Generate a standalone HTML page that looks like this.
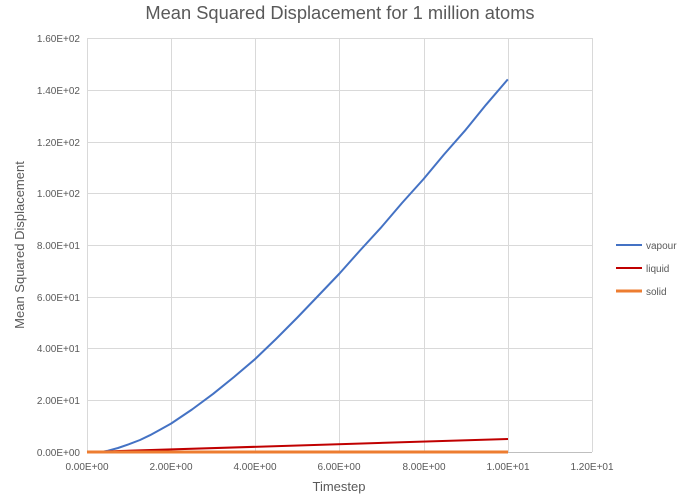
<!DOCTYPE html>
<html><head><meta charset="utf-8"><style>
body{margin:0;background:#fff;}
svg text{font-family:"Liberation Sans",sans-serif;fill:#595959;}
</style></head><body>
<svg width="692" height="498" xmlns="http://www.w3.org/2000/svg">
<rect width="692" height="498" fill="#fff"/>
<text x="340" y="19" font-size="18.3" text-anchor="middle">Mean Squared Displacement for 1 million atoms</text>
<g stroke="#d9d9d9" stroke-width="1">
<line x1="87" y1="38.5" x2="592" y2="38.5"/>
<line x1="87" y1="90.5" x2="592" y2="90.5"/>
<line x1="87" y1="142.5" x2="592" y2="142.5"/>
<line x1="87" y1="193.5" x2="592" y2="193.5"/>
<line x1="87" y1="245.5" x2="592" y2="245.5"/>
<line x1="87" y1="297.5" x2="592" y2="297.5"/>
<line x1="87" y1="348.5" x2="592" y2="348.5"/>
<line x1="87" y1="400.5" x2="592" y2="400.5"/>
<line x1="87.5" y1="38" x2="87.5" y2="452"/>
<line x1="171.5" y1="38" x2="171.5" y2="452"/>
<line x1="255.5" y1="38" x2="255.5" y2="452"/>
<line x1="339.5" y1="38" x2="339.5" y2="452"/>
<line x1="424.5" y1="38" x2="424.5" y2="452"/>
<line x1="508.5" y1="38" x2="508.5" y2="452"/>
<line x1="592.5" y1="38" x2="592.5" y2="452"/>
</g>
<line x1="87" y1="452.5" x2="592" y2="452.5" stroke="#bfbfbf"/>
<g font-size="10" text-anchor="end">
<text x="80" y="42">1.60E+02</text>
<text x="80" y="94">1.40E+02</text>
<text x="80" y="146">1.20E+02</text>
<text x="80" y="197">1.00E+02</text>
<text x="80" y="249">8.00E+01</text>
<text x="80" y="301">6.00E+01</text>
<text x="80" y="352">4.00E+01</text>
<text x="80" y="404">2.00E+01</text>
<text x="80" y="456">0.00E+00</text>
</g>
<g font-size="10" text-anchor="middle">
<text x="87" y="470">0.00E+00</text>
<text x="171" y="470">2.00E+00</text>
<text x="255" y="470">4.00E+00</text>
<text x="339" y="470">6.00E+00</text>
<text x="424" y="470">8.00E+00</text>
<text x="508" y="470">1.00E+01</text>
<text x="592" y="470">1.20E+01</text>
</g>
<text x="339" y="491" font-size="13" text-anchor="middle">Timestep</text>
<text transform="translate(24,245) rotate(-90)" font-size="13" text-anchor="middle">Mean Squared Displacement</text>
<polyline points="87,452 97,452 103,451.6 108,450.7 118,448 129,444.2 140,440 150,435.2 160,429.8 171.2,423.5 192,409.5 213.2,393.8 234,377 255.3,358.9 276,339 297.4,317.5 318,296 339.5,273.5 360,250.5 381.6,226.9 402,203 423.6,179 444,154.5 465.7,129.8 486,104.8 507.8,79.4" fill="none" stroke="#4472c4" stroke-width="2" stroke-linejoin="round"/>
<path d="M87,452 L508,439" fill="none" stroke="#c00000" stroke-width="2"/>
<path d="M87,452 L508,452" fill="none" stroke="#ed7d31" stroke-width="3"/>
<line x1="616" y1="245" x2="642" y2="245" stroke="#4472c4" stroke-width="2"/>
<line x1="616" y1="268" x2="642" y2="268" stroke="#c00000" stroke-width="2"/>
<line x1="616" y1="291" x2="642" y2="291" stroke="#ed7d31" stroke-width="3"/>
<g font-size="10"><text x="646" y="249">vapour</text><text x="646" y="272">liquid</text><text x="646" y="295">solid</text></g>
</svg>
</body></html>
